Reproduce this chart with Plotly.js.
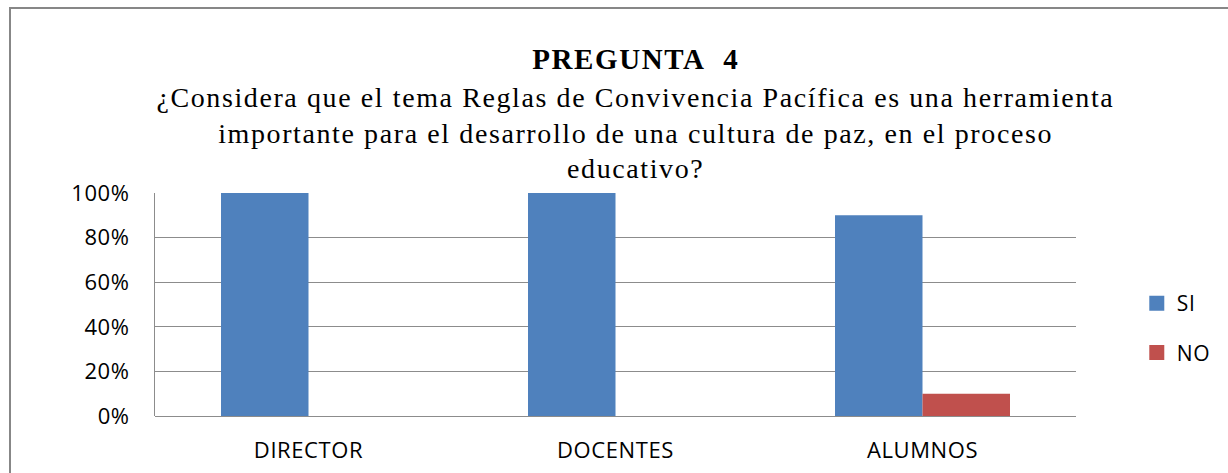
<!DOCTYPE html>
<html>
<head>
<meta charset="utf-8">
<script src="https://cdn.plot.ly/plotly-3.0.1.min.js"></script>
<style>
  html, body { margin: 0; padding: 0; background: #ffffff; }
  #wrap { position: relative; width: 1228px; height: 473px; overflow: hidden; }
  #chart { position: absolute; left: 0; top: 0; width: 1228px; height: 473px; }
  #frame { position: absolute; left: 9px; top: 7px; width: 1400px; height: 700px;
           border-left: 2px solid #878787; border-top: 2px solid #878787; pointer-events: none; }
  #chart .annotation-text { letter-spacing: 1.6px; }
  #chart .xtick text, #chart .ytick text { letter-spacing: 0.6px; }
  #chart .legendtext { letter-spacing: 0.6px; }
  #chart .legendpoints path { transform: translate(20px, 0px) scale(1.25); }
</style>
</head>
<body>
<div id="wrap">
  <div id="chart"></div>
  <div id="frame"></div>
</div>
<script>
// Data
const categories = ["DIRECTOR", "DOCENTES", "ALUMNOS"];
const siValues = [1.00, 1.00, 0.90];
const noValues = [0.00, 0.00, 0.10];
const seriesNames = ["SI", "NO"];
const yTickValues = [0, 0.2, 0.4, 0.6, 0.8, 1.0];
const yTickLabels = ["0%", "20%", "40%", "60%", "80%", "100%"];
const titleText = "PREGUNTA&nbsp;&nbsp;4";
const subtitleLines = [
  "¿Considera que el tema Reglas de Convivencia Pacífica es una herramienta",
  "importante para el desarrollo de una cultura de paz, en el proceso",
  "educativo?"
];

const sansFont = "Open Sans, Carlito, Calibri, sans-serif";
const serifFont = "Liberation Serif, Times New Roman, serif";

const traces = [
  { type: "bar", name: seriesNames[0], x: categories, y: siValues,
    marker: { color: "#4F81BD" }, legendgroup: "a", hoverinfo: "none" },
  { type: "bar", name: seriesNames[1], x: categories, y: noValues,
    marker: { color: "#C0504D" }, legendgroup: "b", hoverinfo: "none" }
];

// subtitle line vertical centres in paper units (plot area 193..416 px)
const subY = [1.430, 1.266, 1.109];

const annotations = [
  { xref: "paper", yref: "paper", x: 0.522, y: 1.603, xanchor: "center", yanchor: "middle",
    text: "<b>" + titleText + "</b>", showarrow: false,
    font: { family: serifFont, size: 29, color: "#000000" } }
];
subtitleLines.forEach((line, i) => {
  annotations.push({
    xref: "paper", yref: "paper", x: 0.522, y: subY[i], xanchor: "center", yanchor: "middle",
    text: line, showarrow: false,
    font: { family: serifFont, size: 28, color: "#000000" }
  });
});

const layout = {
  width: 1228, height: 473,
  margin: { l: 155, r: 152, t: 193, b: 57, pad: 0 },
  paper_bgcolor: "#ffffff", plot_bgcolor: "#ffffff",
  barmode: "group", bargap: 0.43, bargroupgap: 0,
  showlegend: true,
  legend: {
    x: 1.066, xanchor: "left", y: 0.394, yanchor: "middle",
    traceorder: "grouped", tracegroupgap: 19,
    font: { family: sansFont, size: 21, color: "#000000" },
    bgcolor: "rgba(0,0,0,0)"
  },
  xaxis: {
    type: "category",
    showgrid: false, zeroline: false,
    showline: false, ticks: "",
    tickfont: { family: sansFont, size: 22, color: "#000000" },
    ticklabelstandoff: 19
  },
  yaxis: {
    range: [0, 1],
    tickvals: yTickValues, ticktext: yTickLabels,
    showgrid: true, gridcolor: "#8c8c8c", gridwidth: 1,
    zeroline: true, zerolinecolor: "#8c8c8c", zerolinewidth: 1,
    showline: true, linecolor: "#8c8c8c", linewidth: 1,
    ticks: "",
    tickfont: { family: sansFont, size: 22, color: "#000000" },
    ticklabelstandoff: 20
  },
  annotations: annotations
};

Plotly.newPlot("chart", traces, layout, { displayModeBar: false, staticPlot: true });
</script>
</body>
</html>
